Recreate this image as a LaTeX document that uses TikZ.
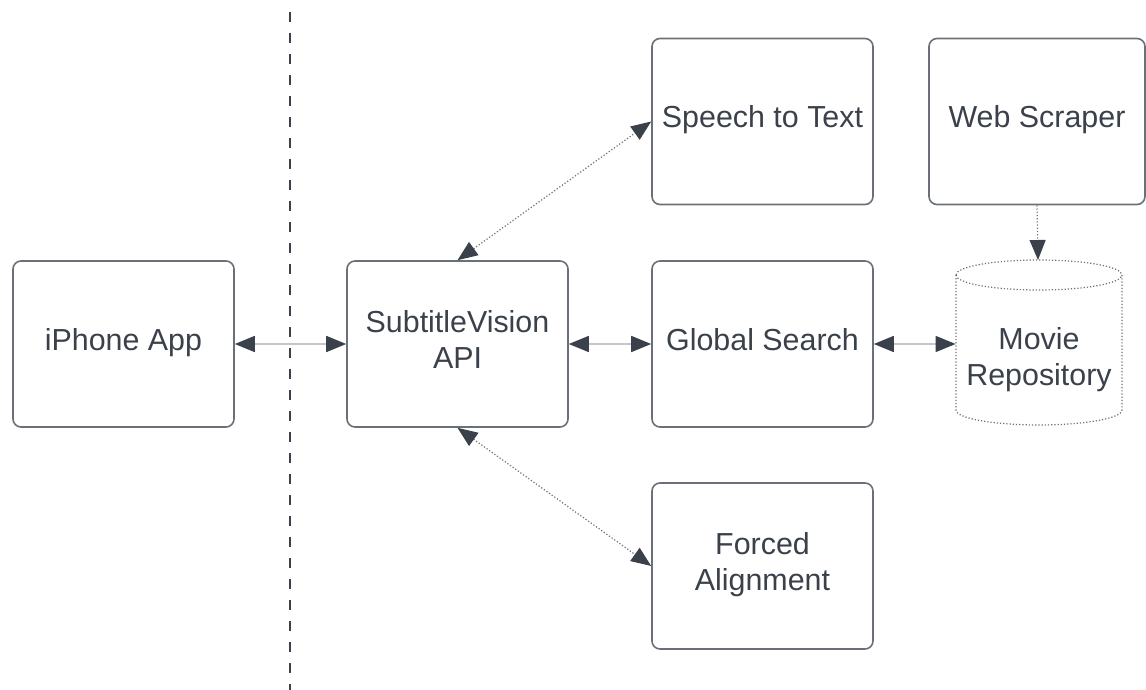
\documentclass[tikz,border=0pt]{standalone}
\usepackage{fontspec}
\setmainfont{Liberation Sans}
\usetikzlibrary{arrows.meta}
\definecolor{ink}{HTML}{3A414A}
\definecolor{edge}{HTML}{6B7078}
\definecolor{wire}{HTML}{C4C6C9}
\tikzset{
  txt/.style={text=ink, font=\fontsize{15.2}{18}\selectfont, text depth=4.7pt, align=center},
  box/.style={txt, draw=edge, line width=0.8pt, rounded corners=4pt, minimum width=110.5pt, minimum height=83pt, inner sep=0pt},
  head/.tip={Triangle[length=10pt,width=8pt,color=ink]},
  tip/.style={head-head},
  solidwire/.style={tip, draw=wire, line width=0.8pt},
  dotwire/.style={tip, draw=edge, line width=0.6pt, densely dotted},
}
\begin{document}
\begin{tikzpicture}[x=0.5pt, y=-0.5pt]
\useasboundingbox (0,0) rectangle (1146,690);
% separator
\draw[ink, line width=1pt, dash pattern=on 5pt off 5.5pt] (290,12) -- (290,690);
% boxes
\node[box] (app) at (123.5,344) {iPhone App};
\node[box] (api) at (457.5,344) {SubtitleVision\\API};
\node[box] (stt) at (762.5,121.5) {Speech to Text};
\node[box] (gs) at (762.5,344) {Global Search};
\node[box] (fa) at (762.5,566) {Forced\\Alignment};
\node[box, minimum width=108pt] (ws) at (1037,121.5) {Web Scraper};
% cylinder
\draw[edge, line width=0.6pt, densely dotted, fill=white]
  (956,275) -- (956,410) arc[start angle=180, end angle=0, x radius=83, y radius=15]
  -- (1122,275) arc[start angle=0, end angle=-180, x radius=83, y radius=15];
\draw[edge, line width=0.6pt, densely dotted]
  (956,275) arc[start angle=180, end angle=0, x radius=83, y radius=15];
\node[inner sep=0pt, minimum width=83pt, minimum height=83pt] (repo) at (1039,344) {};
\node[txt, inner sep=0pt] (repolabel) at (1039,361) {Movie\\Repository};
\coordinate (repotop) at (1038,260);
% connectors
\draw[solidwire] (app.east) -- (api.west);
\draw[solidwire] (api.east) -- (gs.west);
\draw[solidwire] (gs.east) -- (repo.west);
\draw[dotwire] (api.north) -- (stt.west);
\draw[dotwire] (api.south) -- (fa.west);
\draw[draw=edge, line width=0.6pt, densely dotted, -head] (ws.south) -- (repotop);
\end{tikzpicture}
\end{document}
